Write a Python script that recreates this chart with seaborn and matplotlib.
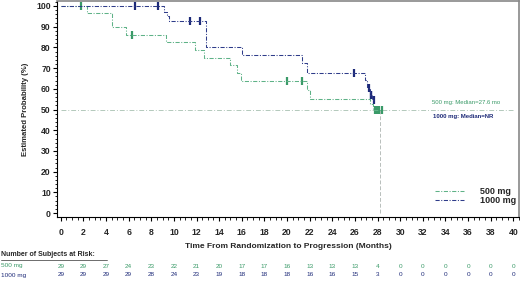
import matplotlib
matplotlib.use("Agg")
import matplotlib.pyplot as plt
from matplotlib.ticker import MultipleLocator
import seaborn as sns
import pandas as pd

# ---- data ----
t_500 = [0, 2.3, 4.5, 5.8, 9.3, 11.9, 12.7, 15.0, 15.6, 15.9, 21.8, 22.0, 27.3, 27.6, 28.4]
s_500 = [100, 96.6, 89.7, 86.2, 82.4, 78.9, 75.0, 71.5, 67.6, 63.6, 59.4, 55.1, 52.5, 50.0, 50.0]
cens_t_500 = [1.8, 6.3, 20.0, 21.3, 27.75, 27.95, 28.15, 28.35]
cens_s_500 = [100, 86.2, 63.6, 63.6, 50.0, 50.0, 50.0, 50.0]

t_1000 = [0, 9.1, 9.35, 9.6, 12.8, 16.0, 21.3, 21.8, 26.9, 27.1, 27.3, 27.5, 27.8]
s_1000 = [100, 97.0, 95.0, 92.8, 80.3, 76.4, 72.6, 67.8, 64.2, 60.5, 57.0, 54.5, 54.5]
cens_t_1000 = [6.6, 8.6, 11.4, 12.3, 25.9, 27.2, 27.38, 27.46, 27.65]
cens_s_1000 = [100, 100, 92.8, 92.8, 67.8, 60.5, 57.0, 57.0, 54.5]

groups = ["500 mg", "1000 mg"]
risk_times = list(range(0, 41, 2))
risk_500 = [29, 29, 27, 24, 23, 22, 21, 20, 17, 17, 16, 13, 13, 13, 4, 0, 0, 0, 0, 0, 0]
risk_1000 = [29, 29, 29, 29, 28, 24, 23, 19, 18, 18, 18, 16, 16, 15, 3, 0, 0, 0, 0, 0, 0]

x_ticks = list(range(0, 41, 2))
y_ticks = list(range(0, 101, 10))

GREEN = "#5fb287"
GREEN_DARK = "#3a9a68"
NAVY = "#2f3c8a"
NAVY_DARK = "#1d2a78"

sns.set_theme(style="white")
plt.rcParams['font.family'] = ['Liberation Sans', 'DejaVu Sans']

fig = plt.figure(figsize=(5.2, 2.83), dpi=100)
ax = fig.add_axes([57 / 520, 1 - 217 / 283, 462 / 520, 216 / 283])

df500 = pd.DataFrame({"t": t_500, "s": s_500})
df1000 = pd.DataFrame({"t": t_1000, "s": s_1000})

sns.lineplot(data=df500, x="t", y="s", ax=ax, estimator=None, sort=False,
             drawstyle="steps-post", color=GREEN, linewidth=0.75,
             linestyle=(0, (4, 1.5, 1, 1.5)), label=groups[0])
sns.lineplot(data=df1000, x="t", y="s", ax=ax, estimator=None, sort=False,
             drawstyle="steps-post", color=NAVY, linewidth=0.75,
             linestyle=(0, (4, 1.5, 1, 1.5)), label=groups[1])

sns.scatterplot(x=cens_t_500, y=cens_s_500, ax=ax, marker="|", s=40,
                linewidth=1.6, color=GREEN_DARK, legend=False)
sns.scatterplot(x=cens_t_1000, y=cens_s_1000, ax=ax, marker="|", s=40,
                linewidth=1.6, color=NAVY_DARK, legend=False)

# reference lines for median
ax.plot([0, 40], [50, 50], color="#b3c9bb", linewidth=0.7, linestyle=(0, (5, 2, 1, 2)), zorder=0)
ax.plot([28.2, 28.2], [0, 50], color="#b8bfbb", linewidth=0.7, linestyle=(0, (4, 2)), zorder=0)

ax.text(38.8, 53.5, "500 mg: Median=27.6 mo", color=GREEN_DARK, fontsize=4.3, ha="right", va="center")
ax.text(38.2, 46.8, "1000 mg: Median=NR", color=NAVY_DARK, fontsize=4.3, ha="right", va="center",
        fontweight="bold")

ax.set_xlim(-0.33, 40.5)
ax.set_ylim(-1.9, 102.4)
ax.set_xticks(x_ticks)
ax.set_yticks(y_ticks)
ax.xaxis.set_minor_locator(MultipleLocator(0.5))
ax.yaxis.set_minor_locator(MultipleLocator(2))
ax.tick_params(axis="both", which="major", direction="out", length=3, width=0.8,
               color="black", labelsize=6.2, pad=1.5, bottom=True, left=True)
ax.tick_params(axis="both", which="minor", direction="out", length=1.8, width=0.6,
               color="black", bottom=True, left=True)
ax.tick_params(axis="x", which="major", pad=5)
for lab in ax.get_xticklabels() + ax.get_yticklabels():
    lab.set_fontweight("bold")

for side in ["left", "bottom"]:
    ax.spines[side].set_color("black")
    ax.spines[side].set_linewidth(0.8)
for side in ["top", "right"]:
    ax.spines[side].set_color("#888888")
    ax.spines[side].set_linewidth(1.2)

ax.set_xlabel("Time From Randomization to Progression (Months)", fontsize=6,
              fontweight="bold", labelpad=4)
ax.set_ylabel("Estimated Probability (%)", fontsize=5.6, fontweight="bold", labelpad=5)

leg = ax.legend(loc="lower right", frameon=False, fontsize=6.5, handlelength=3.2,
                handletextpad=1.8, labelspacing=0.0, borderaxespad=0.3,
                bbox_to_anchor=(1.008, 0.025))
leg._legend_box.align = "right"
for txt in leg.get_texts():
    txt.set_fontweight("bold")

# Number at risk table
fig.text(1 / 520, 1 - 255 / 283, "Number of Subjects at Risk:", fontsize=5,
         fontweight="bold", ha="left", va="center")
fig.lines.append(plt.Line2D([1 / 520, 107 / 520], [1 - 259.5 / 283, 1 - 259.5 / 283],
                            transform=fig.transFigure, color="#555555", linewidth=0.6))
fig.text(1 / 520, 1 - 266 / 283, groups[0], fontsize=4.6, color=GREEN_DARK, ha="left", va="center")
fig.text(1 / 520, 1 - 275 / 283, groups[1], fontsize=4.6, color=NAVY_DARK, ha="left", va="center")
for tt, r5, r10 in zip(risk_times, risk_500, risk_1000):
    xx = ax.transData.transform((tt, 0))[0] / fig.bbox.width
    fig.text(xx, 1 - 266 / 283, str(r5), fontsize=4.6, color=GREEN_DARK, ha="center", va="center")
    fig.text(xx, 1 - 275 / 283, str(r10), fontsize=4.6, color=NAVY_DARK, ha="center", va="center")

fig.savefig("out.png", dpi=100)
